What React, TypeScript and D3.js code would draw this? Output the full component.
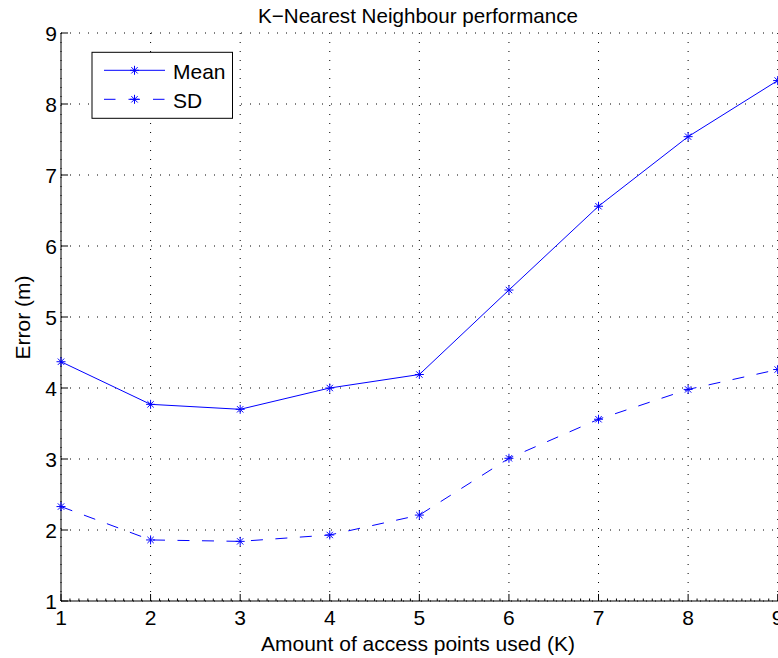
import React from "react";
import * as d3 from "d3";

// Number of access points used (K)
const kValues = [1, 2, 3, 4, 5, 6, 7, 8, 9];
// Positioning error statistics (metres)
const meanError = [4.37, 3.77, 3.70, 4.00, 4.19, 5.38, 6.56, 7.54, 8.33];
const sdError = [2.33, 1.86, 1.84, 1.93, 2.21, 3.01, 3.56, 3.98, 4.26];

const xTicks = [1, 2, 3, 4, 5, 6, 7, 8, 9];
const yTicks = [1, 2, 3, 4, 5, 6, 7, 8, 9];
const xMinorTicks = d3.range(10, 90).map((v) => v / 10).filter((v) => Math.abs(v - Math.round(v)) > 1e-6);

const seriesNames = ["Mean", "SD"];

const W = 778;
const H = 658;
const FONT = "'Liberation Sans', Arial, Helvetica, sans-serif";
const FS = 21;
const BLUE = "#0000ff";

const x = d3.scaleLinear().domain([1, 9]).range([61, 777.7]);
const y = d3.scaleLinear().domain([1, 9]).range([601, 33]);

const line = d3
  .line<number>()
  .x((_, i) => x(kValues[i]))
  .y((d) => y(d));

function Asterisk({ cx, cy, r = 4.5 }: { cx: number; cy: number; r?: number }) {
  const d = r * Math.SQRT1_2;
  return (
    <g stroke={BLUE} strokeWidth={1}>
      <line x1={cx - r} y1={cy} x2={cx + r} y2={cy} />
      <line x1={cx} y1={cy - r} x2={cx} y2={cy + r} />
      <line x1={cx - d} y1={cy - d} x2={cx + d} y2={cy + d} />
      <line x1={cx - d} y1={cy + d} x2={cx + d} y2={cy - d} />
    </g>
  );
}

export default function App() {
  const [x0, x1] = x.range();
  const [y0, y1] = y.range();
  const dashed = "12,12.5";
  const dotted = "1,8";

  return (
    <svg
      width={W}
      height={H}
      style={{ position: "absolute", left: 0, top: 0, background: "#fff" }}
      fontFamily={FONT}
    >
      <rect x={0} y={0} width={W} height={H} fill="#fff" />

      {/* grid */}
      <g stroke="#000" strokeWidth={1} strokeDasharray={dotted}>
        {xTicks.map((t) => (
          <line key={"gx" + t} x1={x(t)} x2={x(t)} y1={y0} y2={y1} />
        ))}
        {yTicks.map((t) => (
          <line key={"gy" + t} x1={x0} x2={x1} y1={y(t)} y2={y(t)} />
        ))}
      </g>

      {/* axes */}
      <g stroke="#000" strokeWidth={1}>
        <line x1={x0} x2={x0} y1={y1} y2={y0} />
        <line x1={x0} x2={W} y1={y0} y2={y0} />
        {xTicks.map((t) => (
          <line key={"tx" + t} x1={x(t)} x2={x(t)} y1={y0} y2={y0 - 7} />
        ))}
        {xMinorTicks.map((t) => (
          <line key={"mx" + t} x1={x(t)} x2={x(t)} y1={y0} y2={y0 - 2.5} />
        ))}
        {yTicks.map((t) => (
          <line key={"ty" + t} x1={x0} x2={x0 + 7} y1={y(t)} y2={y(t)} />
        ))}
      </g>

      {/* tick labels */}
      <g fontSize={FS} fill="#000">
        {xTicks.map((t) => (
          <text key={"lx" + t} x={x(t)} y={624.5} textAnchor="middle">
            {t}
          </text>
        ))}
        {yTicks.map((t) => (
          <text key={"ly" + t} x={57} y={y(t) + 7.5} textAnchor="end">
            {t}
          </text>
        ))}
      </g>

      {/* series */}
      <path d={line(meanError) ?? ""} fill="none" stroke={BLUE} strokeWidth={1} />
      <path
        d={line(sdError) ?? ""}
        fill="none"
        stroke={BLUE}
        strokeWidth={1}
        strokeDasharray={dashed}
      />
      {meanError.map((v, i) => (
        <Asterisk key={"m" + i} cx={x(kValues[i])} cy={y(v)} />
      ))}
      {sdError.map((v, i) => (
        <Asterisk key={"s" + i} cx={x(kValues[i])} cy={y(v)} />
      ))}

      {/* titles */}
      <text x={418} y={23} fontSize={20.6} textAnchor="middle" fill="#000">
        K−Nearest Neighbour performance
      </text>
      <text x={418} y={651} fontSize={FS} textAnchor="middle" fill="#000">
        Amount of access points used (K)
      </text>
      <text
        transform={`translate(30, 317.5) rotate(-90)`}
        fontSize={FS}
        textAnchor="middle"
        fill="#000"
      >
        Error (m)
      </text>

      {/* legend */}
      <g>
        <rect x={92} y={52.3} width={140.5} height={66} fill="#fff" stroke="#000" strokeWidth={1} />
        {seriesNames.map((name, i) => {
          const ly = 70.3 + i * 29;
          return (
            <g key={name}>
              <line
                x1={104}
                x2={165}
                y1={ly}
                y2={ly}
                stroke={BLUE}
                strokeWidth={1}
                strokeDasharray={i === 1 ? "11.5,13" : undefined}
              />
              <Asterisk cx={134.5} cy={ly} />
              <text x={173} y={ly + 8.7} fontSize={FS} fill="#000">
                {name}
              </text>
            </g>
          );
        })}
      </g>
    </svg>
  );
}
